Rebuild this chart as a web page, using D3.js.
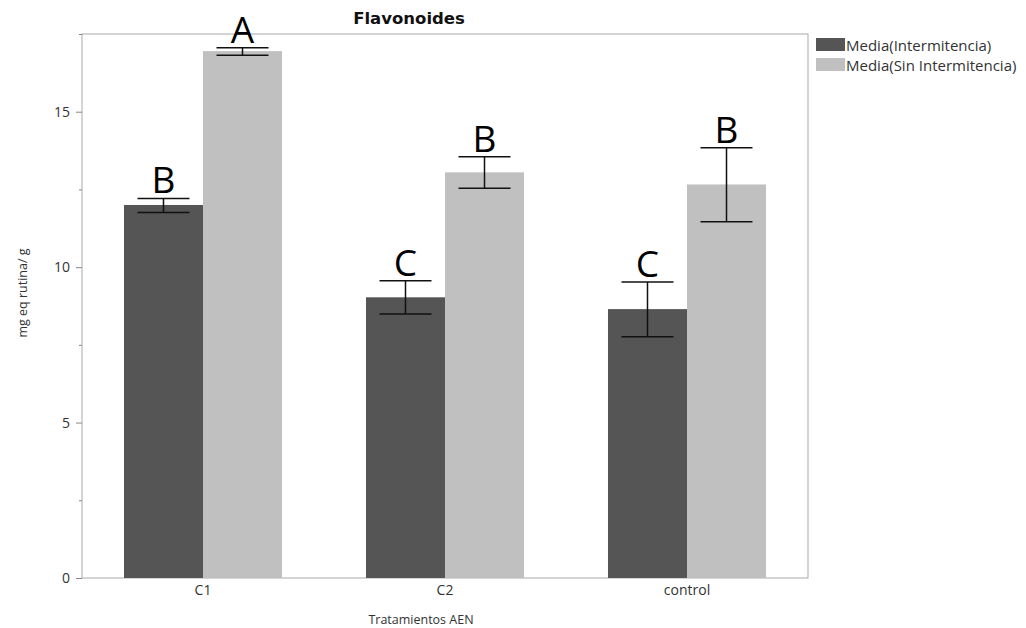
<!DOCTYPE html>
<html>
<head>
<meta charset="utf-8">
<script src="https://cdn.jsdelivr.net/npm/d3@7"></script>
<style>
  body { margin: 0; background: #fff; }
  text { font-family: "Open Sans", "DejaVu Sans", sans-serif; }
</style>
</head>
<body>
<svg id="chart" width="1026" height="628"></svg>
<script>
const categories = ['C1', 'C2', 'control']
const seriesNames = ['Media(Intermitencia)', 'Media(Sin Intermitencia)']
const meanInter = [12.0, 9.03, 8.65]
const lowInter = [11.76, 8.49, 7.76]
const highInter = [12.21, 9.56, 9.52]
const meanSin = [16.95, 13.05, 12.66]
const lowSin = [16.82, 12.54, 11.46]
const highSin = [17.06, 13.55, 13.84]
const lettersInter = ['B', 'C', 'C']
const lettersSin = ['A', 'B', 'B']
const yTicks = [0, 5, 10, 15]
const yMinorTicks = [2.5, 7.5, 12.5, 17.5]

const colors = ['#555555', '#c0c0c0']

const svg = d3.select('#chart')
const margin = { left: 82, top: 34, right: 1026 - 808, bottom: 628 - 578 }
const width = 1026 - margin.left - margin.right
const height = 628 - margin.top - margin.bottom

const g = svg.append('g').attr('transform', `translate(${margin.left},${margin.top})`)

const x = d3.scaleBand().domain(categories).range([0, width])
  .paddingInner(0.347).paddingOuter(0.1735)
const xSub = d3.scaleBand().domain([0, 1]).range([0, x.bandwidth()])
const y = d3.scaleLinear().domain([0, 17.5]).range([height, 0])

const rows = categories.map((c, i) => [
  { cat: c, s: 0, v: meanInter[i], lo: lowInter[i], hi: highInter[i], letter: lettersInter[i] },
  { cat: c, s: 1, v: meanSin[i], lo: lowSin[i], hi: highSin[i], letter: lettersSin[i] }
]).flat()

// frame
g.append('rect')
  .attr('x', 0).attr('y', 0).attr('width', width).attr('height', height)
  .attr('fill', 'none').attr('stroke', '#aaa').attr('stroke-width', 1)

// bars
g.selectAll('rect.bar').data(rows).enter().append('rect')
  .attr('class', 'bar')
  .attr('x', d => x(d.cat) + xSub(d.s))
  .attr('width', xSub.bandwidth())
  .attr('y', d => y(d.v))
  .attr('height', d => height - y(d.v))
  .attr('fill', d => colors[d.s])

// error bars
const capHalf = 26
const eb = g.selectAll('g.err').data(rows).enter().append('g')
  .attr('class', 'err')
  .attr('transform', d => `translate(${x(d.cat) + xSub(d.s) + xSub.bandwidth() / 2},0)`)
eb.append('line').attr('x1', 0).attr('x2', 0)
  .attr('y1', d => y(d.lo)).attr('y2', d => y(d.hi))
eb.append('line').attr('x1', -capHalf).attr('x2', capHalf)
  .attr('y1', d => y(d.lo)).attr('y2', d => y(d.lo))
eb.append('line').attr('x1', -capHalf).attr('x2', capHalf)
  .attr('y1', d => y(d.hi)).attr('y2', d => y(d.hi))
eb.selectAll('line').attr('stroke', '#111').attr('stroke-width', 1.5)

// significance letters
g.selectAll('text.letter').data(rows).enter().append('text')
  .attr('class', 'letter')
  .attr('x', d => x(d.cat) + xSub(d.s) + xSub.bandwidth() / 2)
  .attr('y', d => y(d.hi) - 5)
  .attr('text-anchor', 'middle')
  .style('font-size', '37px')
  .style('fill', '#000')
  .text(d => d.letter)

// axes
const yAxis = g.append('g')
  .call(d3.axisLeft(y).tickValues(yTicks).tickSize(6).tickPadding(6).tickFormat(d3.format('d')))
yAxis.select('.domain').remove()
yAxis.selectAll('line').attr('stroke', '#888')
yAxis.selectAll('text').style('font-size', '14px').style('fill', '#333')

g.append('g')
  .call(d3.axisLeft(y).tickValues(yMinorTicks).tickSize(3).tickFormat(''))
  .call(a => a.select('.domain').remove())
  .selectAll('line').attr('stroke', '#888')

const xAxis = g.append('g').attr('transform', `translate(0,${height})`)
  .call(d3.axisBottom(x).tickSize(0).tickPadding(7))
xAxis.select('.domain').remove()
xAxis.selectAll('text').style('font-size', '14px').style('fill', '#333')

// title and labels
svg.append('text')
  .attr('x', 409).attr('y', 24)
  .attr('text-anchor', 'middle')
  .style('font-family', '"DejaVu Sans", sans-serif')
  .style('font-size', '16.5px').style('font-weight', 'bold').style('fill', '#111')
  .text('Flavonoides')

svg.append('text')
  .attr('x', 421).attr('y', 624)
  .attr('text-anchor', 'middle')
  .style('font-size', '12.5px').style('fill', '#333')
  .text('Tratamientos AEN')

svg.append('text')
  .attr('transform', 'translate(27,293) rotate(-90)')
  .attr('text-anchor', 'middle')
  .style('font-size', '12.5px').style('fill', '#333')
  .text('mg eq rutina/ g')

// legend
const legend = svg.append('g').attr('transform', 'translate(816,38)')
const items = legend.selectAll('g').data(seriesNames).enter().append('g')
  .attr('transform', (d, i) => `translate(0,${i * 20})`)
items.append('rect').attr('width', 29).attr('height', 13)
  .attr('fill', (d, i) => colors[i])
items.append('text').attr('x', 30).attr('y', 13)
  .style('font-size', '15px').style('fill', '#333')
  .text(d => d)
</script>
</body>
</html>
